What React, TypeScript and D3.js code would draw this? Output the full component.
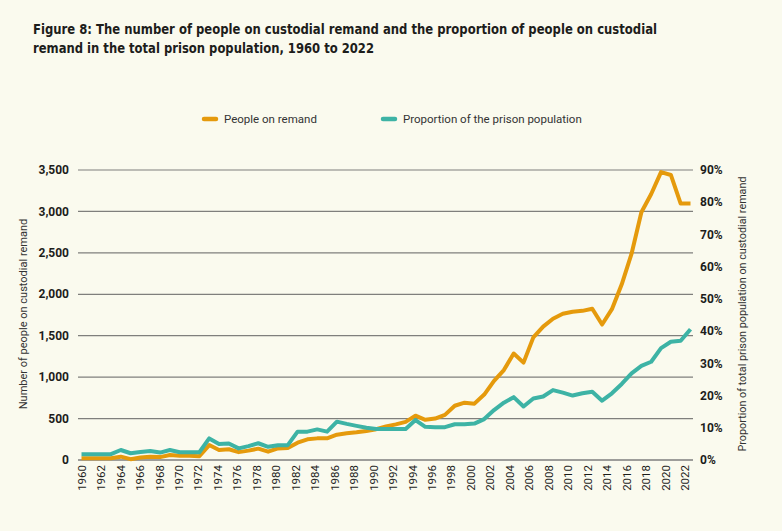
import React from "react";
import * as d3 from "d3";

const years: number[] = d3.range(1960, 2023);

const remand: number[] = [
  20, 20, 20, 22, 40, 10, 30, 40, 35, 60,
  50, 52, 45, 180, 120, 130, 95, 113, 137, 100,
  140, 145, 209, 250, 261, 262, 306, 322, 334, 350,
  372, 405, 430, 460, 535, 485, 500, 545, 655, 692,
  680, 790, 955, 1085, 1285, 1175, 1480, 1610, 1705, 1765,
  1790, 1800, 1825, 1635, 1820, 2120, 2490, 2990, 3210, 3475,
  3440, 3095, 3095,
];

const proportion: number[] = [
  1.8, 1.8, 1.8, 1.8, 3.1, 2.1, 2.5, 2.8, 2.3, 3.1,
  2.4, 2.4, 2.4, 6.7, 5.0, 5.1, 3.6, 4.3, 5.2, 4.1,
  4.6, 4.6, 8.8, 8.8, 9.5, 8.8, 11.9, 11.2, 10.6, 10.0,
  9.6, 9.6, 9.6, 9.6, 12.4, 10.3, 10.2, 10.2, 11.1, 11.1,
  11.3, 12.7, 15.5, 17.8, 19.5, 16.6, 19.1, 19.7, 21.7, 20.9,
  20.0, 20.7, 21.2, 18.4, 20.7, 23.6, 26.9, 29.2, 30.5, 34.7,
  36.7, 37.0, 40.6,
];

const leftTicks: number[] = [0, 500, 1000, 1500, 2000, 2500, 3000, 3500];
const rightTicks: number[] = [0, 10, 20, 30, 40, 50, 60, 70, 80, 90];
const xTickYears: number[] = d3.range(1960, 2023, 2);

const titleLines: string[] = [
  "Figure 8: The number of people on custodial remand and the proportion of people on custodial",
  "remand in the total prison population, 1960 to 2022",
];
const legendLabels: string[] = ["People on remand", "Proportion of the prison population"];
const leftTitle = "Number of people on custodial remand";
const rightTitle = "Proportion of total prison population on custodial remand";

const ORANGE = "#E59A0C";
const TEAL = "#3DB3A5";
const BG = "#FAFAEE";
const TEXT = "#1d1d1b";
const FONT = "Roboto, 'Noto Sans', sans-serif";

export default function App() {
  const W = 782;
  const H = 531;
  const x = d3.scaleLinear().domain([1960, 2022]).range([81.5, 690.5]);
  const xLabel = d3.scaleLinear().domain([1960, 2022]).range([81.7, 685]);
  const yL = d3.scaleLinear().domain([0, 3500]).range([460, 170]);
  const yR = d3.scaleLinear().domain([0, 90]).range([460, 170]);

  const lineL = d3
    .line<number>()
    .x((_, i) => x(years[i]))
    .y((d) => yL(d));
  const lineR = d3
    .line<number>()
    .x((_, i) => x(years[i]))
    .y((d) => yR(d));

  const gridX0 = 78;
  const gridX1 = 693;

  return (
    <svg
      width={W}
      height={H}
      style={{ position: "absolute", left: 0, top: 0, display: "block" }}
    >
      <rect x={0} y={0} width={W} height={H} fill={BG} />

      {/* Title */}
      <text
        x={33}
        y={34}
        fontFamily="'Liberation Sans Narrow', 'DejaVu Sans Condensed', Roboto, sans-serif"
        fontWeight="bold"
        fontSize={14}
        fill={TEXT}
        textLength={624}
        lengthAdjust="spacingAndGlyphs"
      >
        {titleLines[0]}
      </text>
      <text
        x={33}
        y={53}
        fontFamily="'Liberation Sans Narrow', 'DejaVu Sans Condensed', Roboto, sans-serif"
        fontWeight="bold"
        fontSize={14}
        fill={TEXT}
        textLength={341}
        lengthAdjust="spacingAndGlyphs"
      >
        {titleLines[1]}
      </text>

      {/* Legend */}
      <line x1={204} x2={216} y1={119} y2={119} stroke={ORANGE} strokeWidth={4.5} strokeLinecap="round" />
      <text x={224} y={123} fontFamily={FONT} fontSize={11.5} fill="#333">
        {legendLabels[0]}
      </text>
      <line x1={383} x2={395} y1={119} y2={119} stroke={TEAL} strokeWidth={4.5} strokeLinecap="round" />
      <text x={403} y={123} fontFamily={FONT} fontSize={11.5} fill="#333">
        {legendLabels[1]}
      </text>

      {/* Gridlines */}
      {leftTicks.map((t) =>
        t === 0 ? null : (
          <line
            key={"g" + t}
            x1={gridX0}
            x2={gridX1}
            y1={yL(t)}
            y2={yL(t)}
            stroke="#7f7f7c"
            strokeWidth={1.2}
          />
        )
      )}
      <line x1={gridX0} x2={gridX1} y1={yL(0)} y2={yL(0)} stroke="#9d9d9a" strokeWidth={2} />

      {/* Left tick labels */}
      {leftTicks.map((t) => (
        <text
          key={"l" + t}
          x={69}
          y={yL(t)}
          dy="0.35em"
          textAnchor="end"
          fontFamily={FONT}
          fontWeight="bold"
          fontSize={12}
          fill={TEXT}
        >
          {d3.format(",")(t)}
        </text>
      ))}

      {/* Right tick labels */}
      {rightTicks.map((t) => (
        <text
          key={"r" + t}
          x={700}
          y={yR(t)}
          dy="0.35em"
          textAnchor="start"
          fontFamily={FONT}
          fontWeight="bold"
          fontSize={12}
          fill={TEXT}
        >
          {t + "%"}
        </text>
      ))}

      {/* X tick labels */}
      {xTickYears.map((yr) => (
        <text
          key={"x" + yr}
          transform={`translate(${xLabel(yr)},465) rotate(-90)`}
          dy="0.35em"
          textAnchor="end"
          fontFamily={FONT}
          fontSize={11.5}
          fill={TEXT}
        >
          {yr}
        </text>
      ))}

      {/* Axis titles */}
      <text
        transform="translate(23,314) rotate(-90)"
        dy="0.35em"
        textAnchor="middle"
        fontFamily={FONT}
        fontSize={11}
        fill="#333"
      >
        {leftTitle}
      </text>
      <text
        transform="translate(742,314) rotate(-90)"
        dy="0.35em"
        textAnchor="middle"
        fontFamily={FONT}
        fontSize={10.8}
        fill="#333"
      >
        {rightTitle}
      </text>

      {/* Lines */}
      <path
        d={lineL(remand) || ""}
        fill="none"
        stroke={ORANGE}
        strokeWidth={4}
        strokeLinejoin="round"
      />
      <path
        d={lineR(proportion) || ""}
        fill="none"
        stroke={TEAL}
        strokeWidth={4}
        strokeLinejoin="round"
      />
    </svg>
  );
}
